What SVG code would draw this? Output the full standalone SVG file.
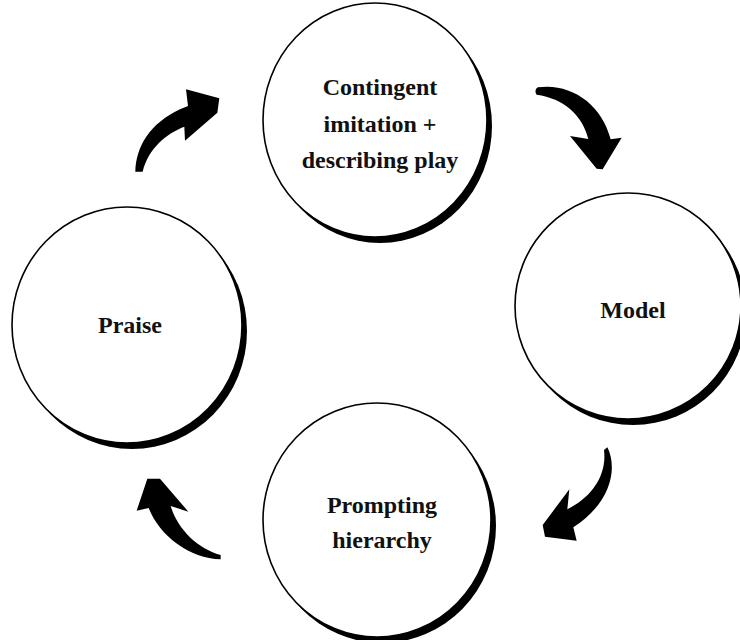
<svg xmlns="http://www.w3.org/2000/svg" width="740" height="640" viewBox="0 0 740 640">
  <style>
    .shadow { fill: #000; }
    .disc { fill: #fff; stroke: #000; stroke-width: 1.6; }
    .label { font-family: "Liberation Serif", "Times New Roman", serif; font-weight: bold; font-size: 24px; fill: #111; text-anchor: middle; }
    .swoosh { fill: #000; stroke: none; }
  </style>
  <rect width="740" height="640" fill="#fff"/>

  <!-- curved brush-stroke arrows between the steps -->
  <g id="connectors">
    <!-- Praise -> Contingent imitation -->
    <path class="swoosh" transform="translate(130 70) scale(0.3333)"
      d="M 16 305 C 18 230 60 160 150 118 L 174 108 L 168 58 L 268 85 L 262 128 L 165 212 L 163 170 C 110 190 55 235 38 305 Z"/>
    <!-- Contingent imitation -> Model -->
    <path class="swoosh" transform="translate(530 70) scale(0.3333)"
      d="M 24 52 C 120 38 215 100 242 208 L 275 203 L 218 298 L 200 296 L 120 198 L 175 207 C 158 135 100 85 20 74 C 14 66 16 56 24 52 Z"/>
    <!-- Model -> Prompting hierarchy -->
    <path class="swoosh" transform="translate(530 440) scale(0.3333)"
      d="M 232 22 C 262 80 248 185 130 262 L 140 302 L 45 290 L 38 255 L 118 148 L 112 208 C 180 175 232 110 222 30 Z"/>
    <!-- Prompting hierarchy -> Praise -->
    <path class="swoosh" transform="translate(120 440) scale(0.3333)"
      d="M 82 116 L 120 116 L 205 215 L 152 198 C 172 265 230 325 302 345 L 302 358 C 210 355 120 290 86 204 L 50 212 Z"/>
  </g>

  <g id="node-contingent">
    <ellipse class="shadow" cx="380" cy="126" rx="112" ry="117"/>
    <ellipse class="disc" cx="375" cy="120" rx="112" ry="117"/>
    <text class="label" x="380" y="95">Contingent</text>
    <text class="label" x="380" y="132">imitation +</text>
    <text class="label" x="380" y="168">describing play</text>
  </g>

  <g id="node-model">
    <ellipse class="shadow" cx="633" cy="312" rx="113" ry="113"/>
    <ellipse class="disc" cx="628" cy="306" rx="113" ry="113"/>
    <text class="label" x="633" y="318">Model</text>
  </g>

  <g id="node-prompting">
    <ellipse class="shadow" cx="382" cy="526" rx="114" ry="117"/>
    <ellipse class="disc" cx="377" cy="520" rx="114" ry="117"/>
    <text class="label" x="382" y="513">Prompting</text>
    <text class="label" x="382" y="548">hierarchy</text>
  </g>

  <g id="node-praise">
    <ellipse class="shadow" cx="132" cy="331" rx="115" ry="118"/>
    <ellipse class="disc" cx="127" cy="325" rx="115" ry="118"/>
    <text class="label" x="130" y="333">Praise</text>
  </g>
</svg>
